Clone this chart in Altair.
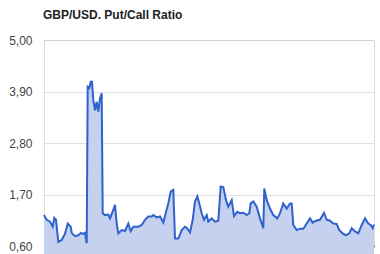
import altair as alt
import pandas as pd

# Trading-day index and GBP/USD put/call ratio
day = [0, 2.7, 6, 8.7, 10.3, 12, 14.3, 17.7, 21, 23.7, 26.7, 27.7, 31, 34.3, 37, 39.3, 41,
       42.7, 43.7, 45.3, 46.7, 48, 49.3, 51, 52.7, 54.3, 56, 57.7, 58.7, 61, 64.3, 66, 69.3,
       71, 72.7, 74.3, 77.7, 81, 84.3, 86.7, 89.3, 94.3, 97.7, 101, 104.3, 107.7, 109.3,
       112.7, 116, 119.3, 121.7, 124.3, 126.7, 129.3, 131, 134.3, 137.7, 141, 142.7, 146,
       148.7, 151, 153.3, 155.3, 157.7, 160, 162.7, 164.3, 167.7, 171, 174.3, 176.7, 179.3,
       182, 184.3, 187.7, 190, 193.3, 196, 199.3, 202.7, 205.3, 206.7, 209.3, 212.7, 216,
       219.3, 220.3, 222.7, 226, 229.3, 233.3, 236, 239.3, 242.7, 246, 247.7, 249.3, 252.7,
       256, 259.3, 262.7, 266, 268.7, 272, 276, 280, 282.7, 286, 289.3, 292.7, 295.3, 298.7,
       302, 305.3, 307.7, 311, 314.3, 317.7, 321, 324.3, 326.7, 328.7, 330]
ratio = [1.26, 1.16, 1.12, 1.01, 1.20, 1.16, 0.69, 0.73, 0.86, 1.08, 1.01, 0.88, 0.81, 0.83,
         0.88, 0.86, 0.88, 0.66, 4.00, 3.97, 4.11, 4.11, 3.72, 3.50, 3.68, 3.47, 3.75, 3.86,
         1.30, 1.26, 1.27, 1.19, 1.37, 1.48, 1.08, 0.87, 0.94, 0.92, 1.08, 0.92, 1.01, 1.01,
         1.05, 1.16, 1.23, 1.23, 1.26, 1.21, 1.23, 1.10, 1.30, 1.51, 1.76, 1.80, 0.76, 0.76,
         0.94, 1.01, 0.99, 0.89, 1.16, 1.55, 1.66, 1.51, 1.30, 1.16, 1.26, 1.12, 1.19, 1.12,
         1.14, 1.87, 1.86, 1.58, 1.44, 1.58, 1.24, 1.33, 1.30, 1.31, 1.26, 1.30, 1.51, 1.55,
         1.44, 1.19, 0.98, 1.83, 1.58, 1.40, 1.26, 1.19, 1.30, 1.51, 1.40, 1.51, 1.51, 1.05,
         0.94, 0.97, 0.97, 1.08, 1.19, 1.10, 1.14, 1.16, 1.31, 1.16, 1.14, 1.08, 1.07, 0.94,
         0.87, 0.83, 0.87, 0.98, 0.91, 0.87, 1.05, 1.19, 1.08, 1.05, 0.98, 1.06]

y_ticks = [0.6, 1.7, 2.8, 3.9, 5.0]

df = pd.DataFrame({"day": day, "ratio": ratio})

chart = (
    alt.Chart(df, title=alt.TitleParams(
        "GBP/USD. Put/Call Ratio", anchor="start", frame="group", dx=-1, offset=12,
        font="Liberation Sans", fontSize=12, fontWeight="bold", color="#222222"))
    .mark_area(
        color="#c6d1f0", opacity=1,
        line=alt.LineConfig(color="#2f62cc", strokeWidth=2),
    )
    .encode(
        x=alt.X("day:Q", scale=alt.Scale(domain=[0, 330], nice=False, zero=False),
                axis=alt.Axis(labels=False, ticks=False, grid=False, title=None,
                              domainColor="#111111", domainWidth=2)),
        y=alt.Y("ratio:Q", scale=alt.Scale(domain=[0.6, 5.0], nice=False, zero=False),
                axis=alt.Axis(values=y_ticks, title=None, ticks=False, domain=False,
                              labelExpr="replace(format(datum.value, '.2f'), '.', ',')",
                              labelPadding=12, labelFont="Liberation Sans", labelFontSize=12,
                              labelColor="#444444", gridColor="#c9bcd2", gridDash=[1, 1],
                              gridWidth=1)),
    )
    .properties(width=330, height=206, autosize=alt.AutoSizeParams(type="none"),
                padding={"left": 44, "top": 40, "right": 6, "bottom": 8})
    .configure_view(stroke=None)
    .configure(background="#ffffff")
)

chart.save("out.html", embed_options={"renderer": "svg", "actions": False})
